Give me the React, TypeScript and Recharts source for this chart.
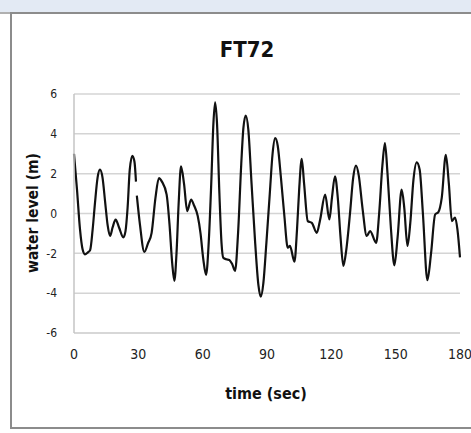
import { CartesianGrid, Line, LineChart, XAxis, YAxis } from 'recharts'

// sampled off the FT72 record; null marks the short break near 29 s
const timeSec = [
  0, 1.4, 2.8, 4, 5.1, 6.5, 7.5, 8.7, 9.8, 11, 12.1, 13.3, 14.5, 15.7, 16.8, 18, 19.4, 21, 23, 24, 25, 26,
  27.2, 28.2, 28.9, 29.1, 29.3, 30.8, 32.8, 34.5, 36.2, 38, 39.6, 41, 43.2, 44.5, 45.8, 46.8, 47.8, 48.8,
  49.9, 51.3, 52.8, 54.6, 56, 57.7, 59, 60.3, 61.6, 62.8, 64, 65, 65.8, 66.7, 67.8, 68.8, 69.6, 71, 72.4,
  73.8, 75.1, 76.5, 78, 79, 80.1, 81.3, 82.8, 84.5, 86, 87.1, 88.3, 89.7, 91.3, 92.6, 93.8, 95, 96.5, 98,
  99.7, 100.7, 102.8, 104, 105, 106.2, 107.3, 109, 110.9, 113.2, 114.8, 117.1, 119.1, 120.3, 121.7, 123,
  124.3, 125.6, 127, 128.7, 130.2, 131.5, 132.8, 134.5, 136.5, 138.1, 140.9, 142.3, 143.8, 145, 146.2,
  147.7, 149.4, 150.9, 152.8, 154, 155.5, 156.8, 158.3, 159.8, 161.2, 162.7, 164.8, 166.5, 168.4, 169.9,
  171.5, 173.4, 174.8, 176.2, 177.7, 178.8, 180,
]
const waterLevel: (number | null)[] = [
  3.0, 1.2, -0.8, -1.8, -2.05, -1.95, -1.85, -0.8, 0.55, 1.8, 2.2, 1.8, 0.6, -0.6, -1.13, -0.7, -0.3, -0.7,
  -1.2, -0.9, 0.3, 2.2, 2.9, 2.6, 1.6, null, 0.9, -0.6, -1.93, -1.5, -0.97, 0.8, 1.78, 1.6, 0.95, -0.5,
  -2.5, -3.38, -2.0, 0.5, 2.37, 1.5, 0.12, 0.7, 0.4, -0.13, -1.0, -2.3, -3.08, -1.5, 1.5, 4.5, 5.58, 4.5,
  1.0, -1.5, -2.22, -2.3, -2.33, -2.55, -2.88, -1.0, 2.5, 4.3, 4.92, 4.2, 1.5, -1.5, -3.6, -4.18, -3.5,
  -1.5, 1.0, 3.0, 3.78, 3.4, 1.8, 0.0, -1.72, -1.63, -2.42, -0.8, 1.2, 2.75, 1.5, -0.38, -0.47, -0.97,
  -0.3, 0.95, -0.3, 0.8, 1.87, 0.8, -1.2, -2.63, -1.8, 0.0, 1.8, 2.4, 1.9, 0.3, -1.13, -0.88, -1.47, 0.0,
  2.4, 3.53, 2.0, -0.6, -2.6, -1.2, 1.2, 0.3, -1.63, -0.5, 1.7, 2.57, 2.2, 0.0, -3.35, -2.0, -0.05, 0.07,
  0.8, 2.95, 1.5, -0.38, -0.2, -0.8, -2.2,
]
const xTicks = [0, 30, 60, 90, 120, 150, 180]
const yTicks = [-6, -4, -2, 0, 2, 4, 6]

const data = timeSec.map((t, i) => ({ t, level: waterLevel[i] }))

const font = "'Liberation Sans Narrow', 'DejaVu Sans Condensed', 'Noto Sans', sans-serif"

export default function App() {
  return (
    <div style={{ position: 'absolute', left: 0, top: 0, width: 471, height: 433, background: '#fff', overflow: 'hidden' }}>
      <div style={{ position: 'absolute', left: 0, top: 0, width: 471, height: 12, background: '#e3eaf4' }} />
      <div style={{ position: 'absolute', left: 0, top: 12, width: 12, height: 2, background: '#b0b0b0' }} />
      <div
        style={{
          position: 'absolute',
          left: 10,
          top: 12,
          width: 470,
          height: 413,
          borderTop: '2px solid #8c8c8c',
          borderLeft: '2px solid #8c8c8c',
          borderBottom: '2px solid #8c8c8c',
        }}
      />
      <div
        style={{
          position: 'absolute',
          left: 197,
          top: 37,
          width: 100,
          textAlign: 'center',
          fontFamily: font,
          fontWeight: 'bold',
          fontSize: 22,
          color: '#111',
        }}
      >
        FT72
      </div>
      <div
        style={{
          position: 'absolute',
          left: 33,
          top: 213,
          transform: 'translate(-50%, -50%) rotate(-90deg)',
          whiteSpace: 'nowrap',
          fontFamily: font,
          fontWeight: 'bold',
          fontSize: 15.5,
          color: '#111',
        }}
      >
        water level (m)
      </div>
      <div
        style={{
          position: 'absolute',
          left: 216,
          top: 384,
          width: 100,
          textAlign: 'center',
          fontFamily: font,
          fontWeight: 'bold',
          fontSize: 16,
          color: '#111',
        }}
      >
        time (sec)
      </div>
      <div style={{ position: 'absolute', left: 0, top: 0 }}>
        <LineChart width={471} height={433} data={data} margin={{ top: 94, right: 11, bottom: 70, left: 0 }}>
          <CartesianGrid vertical={false} stroke="#d4d4d4" strokeWidth={1.5} />
          <XAxis
            type="number"
            dataKey="t"
            domain={[0, 180]}
            ticks={xTicks}
            height={30}
            tickLine={false}
            tickSize={0}
            tickMargin={16}
            axisLine={{ stroke: '#d4d4d4', strokeWidth: 1.5 }}
            tick={{ fill: '#222', fontSize: 14, fontFamily: font }}
          />
          <YAxis
            type="number"
            domain={[-6, 6]}
            ticks={yTicks}
            width={74}
            tickLine={false}
            tickSize={0}
            tickMargin={17}
            axisLine={{ stroke: '#c4c4c4', strokeWidth: 1.5 }}
            tick={{ fill: '#222', fontSize: 12, fontFamily: font }}
          />
          <Line
            type="monotone"
            dataKey="level"
            stroke="#111"
            strokeWidth={2.2}
            dot={false}
            connectNulls={false}
            isAnimationActive={false}
          />
        </LineChart>
      </div>
    </div>
  )
}
